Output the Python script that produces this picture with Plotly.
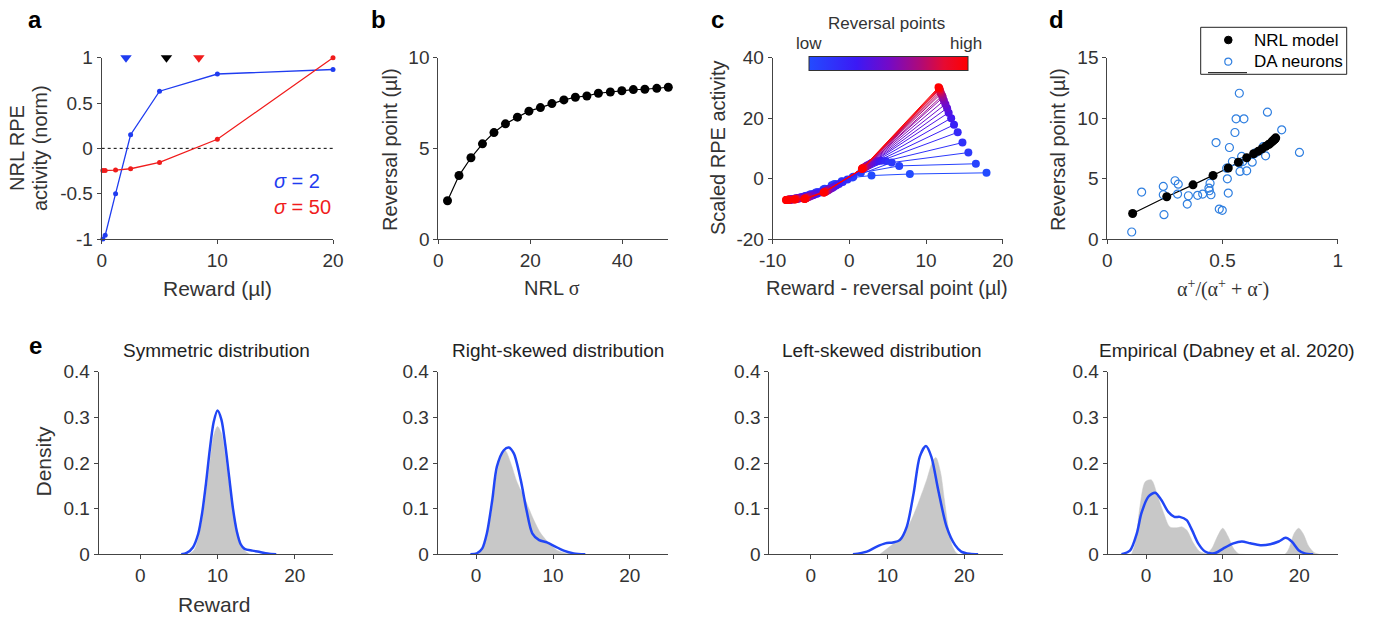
import plotly.graph_objects as go
from plotly.colors import sample_colorscale

W, H = 1374, 619
FONT = "Liberation Sans, Arial, sans-serif"
SERIF = "Liberation Serif, Times New Roman, serif"
TXT = "#333333"
AXC = "#444444"
BLUE = "#1f3cf0"
RED = "#f01c1c"
DA_BLUE = "#2f7fe0"

# ---------------- data ----------------
# panel a
rewards = [0.1, 0.3, 1.2, 2.5, 5, 10, 20]
rpe_sigma2 = [-1.0, -0.96, -0.5, 0.15, 0.63, 0.82, 0.87]
rpe_sigma50 = [-0.245, -0.245, -0.24, -0.225, -0.155, 0.10, 1.0]
rev_marker_x = [2.1, 5.6, 8.4]
rev_marker_y = [1.0, 1.0, 1.0]
rev_marker_colors = [BLUE, "black", RED]

# panel b
nrl_sigma = [2.0, 4.5, 7.1, 9.6, 12.1, 14.6, 17.2, 19.7, 22.2, 24.7,
             27.3, 29.8, 32.3, 34.8, 37.4, 39.9, 42.4, 44.9, 47.5, 50.0]
reversal_pts = [2.11, 3.50, 4.48, 5.25, 5.87, 6.35, 6.72, 7.05, 7.25, 7.47,
                7.67, 7.82, 7.89, 8.04, 8.11, 8.18, 8.24, 8.26, 8.31, 8.37]

# panel c: scaled RPE activity for each model neuron at each reward
rpe_scaled = [
    [-1.9, -1.8, -0.95, 0.35, 1.0, 1.5, 1.9],
    [-3.6, -3.4, -2.2, -0.9, 1.9, 4.2, 4.9],
    [-4.6, -4.5, -3.6, -2.3, 0.6, 5.3, 8.6],
    [-5.3, -5.2, -4.5, -3.4, -0.3, 5.8, 11.9],
    [-5.8, -5.7, -5.1, -4.1, -1.1, 5.9, 15.3],
    [-6.2, -6.1, -5.6, -4.6, -1.8, 5.7, 17.8],
    [-6.4, -6.3, -5.9, -5.0, -2.3, 5.5, 20.0],
    [-6.6, -6.5, -6.1, -5.3, -2.8, 5.2, 21.8],
    [-6.7, -6.6, -6.3, -5.5, -3.1, 4.9, 23.3],
    [-6.8, -6.7, -6.4, -5.7, -3.4, 4.6, 24.6],
    [-6.9, -6.8, -6.5, -5.9, -3.7, 4.3, 25.8],
    [-6.9, -6.9, -6.6, -6.0, -3.9, 4.1, 26.8],
    [-7.0, -6.9, -6.6, -6.1, -4.0, 3.9, 27.4],
    [-7.0, -7.0, -6.7, -6.3, -4.2, 3.7, 28.1],
    [-7.0, -7.0, -6.7, -6.4, -4.3, 3.6, 28.6],
    [-7.0, -7.0, -6.8, -6.5, -4.4, 3.5, 29.1],
    [-7.1, -7.0, -6.8, -6.6, -4.5, 3.4, 29.5],
    [-7.1, -7.0, -6.8, -6.6, -4.5, 3.3, 29.8],
    [-7.1, -7.1, -6.9, -6.7, -4.6, 3.3, 30.0],
    [-7.1, -7.1, -6.9, -6.8, -4.6, 3.2, 30.2],
]

# panel d
model_asym = [0.110, 0.258, 0.372, 0.459, 0.525, 0.569, 0.605, 0.635, 0.655, 0.672,
              0.688, 0.700, 0.706, 0.714, 0.718, 0.722, 0.725, 0.727, 0.729, 0.731]
da_asym = [0.106, 0.149, 0.243, 0.243, 0.246, 0.294, 0.308, 0.305, 0.347, 0.352,
           0.392, 0.414, 0.472, 0.446, 0.441, 0.443, 0.450, 0.486, 0.499, 0.518,
           0.521, 0.525, 0.530, 0.543, 0.554, 0.559, 0.573, 0.593, 0.573, 0.576,
           0.583, 0.588, 0.605, 0.629, 0.641, 0.677, 0.687, 0.695, 0.757, 0.834]
da_reversal = [0.58, 3.88, 4.35, 3.66, 2.01, 4.82, 4.54, 3.72, 2.89, 3.58,
               3.61, 3.72, 7.98, 4.62, 4.21, 3.99, 3.66, 2.48, 2.37, 5.86,
               4.98, 3.80, 7.57, 6.41, 8.81, 9.94, 12.06, 9.94, 6.28, 5.59,
               6.83, 6.41, 5.64, 6.36, 7.10, 7.65, 6.88, 10.49, 9.03, 7.16]
legend_labels = ["NRL model", "DA neurons"]

# panel e: true density (gray) and decoded density (blue)
sym_true_x = [6.3, 7.0, 7.5, 8.0, 8.5, 9.0, 9.5, 10.0, 10.5, 11.0, 11.5, 12.0, 12.5, 13.0, 13.5, 14.2]
sym_true_y = [0, 0.01, 0.035, 0.075, 0.135, 0.2, 0.26, 0.28, 0.265, 0.215, 0.155, 0.1, 0.055, 0.025, 0.008, 0]
sym_dec_x = [5.3, 6.0, 6.8, 7.5, 8.0, 8.5, 9.0, 9.5, 10.0, 10.5, 11.0, 11.5, 12.0, 12.5, 13.0, 13.5, 14.5, 15.5, 16.5, 17.6]
sym_dec_y = [0, 0.003, 0.015, 0.045, 0.09, 0.155, 0.23, 0.29, 0.315, 0.295, 0.24, 0.17, 0.1, 0.05, 0.022, 0.012, 0.008, 0.005, 0.002, 0]

right_true_x = [0.3, 1.0, 1.9, 2.7, 3.4, 3.8, 4.5, 5.3, 6.4, 7.5, 8.4, 9.5, 10.5, 11.8, 12.7]
right_true_y = [0, 0.017, 0.082, 0.177, 0.221, 0.227, 0.2, 0.159, 0.119, 0.075, 0.046, 0.024, 0.009, 0.002, 0]
right_dec_x = [-0.75, 0.1, 0.8, 1.4, 2.1, 2.7, 3.6, 4.25, 4.9, 5.8, 6.55, 7.3, 8.2, 9.2, 10.3, 11.4, 12.7, 14.2]
right_dec_y = [0, 0.002, 0.013, 0.046, 0.119, 0.192, 0.228, 0.234, 0.221, 0.163, 0.097, 0.046, 0.031, 0.026, 0.017, 0.008, 0.002, 0]

left_true_x = [9.0, 10.3, 11.6, 12.9, 14.0, 15.1, 15.9, 16.3, 16.9, 17.4, 17.9, 18.4, 18.9, 19.2]
left_true_y = [0, 0.017, 0.035, 0.068, 0.112, 0.163, 0.205, 0.212, 0.18, 0.12, 0.06, 0.02, 0.004, 0]
left_dec_x = [5.5, 7.3, 8.6, 9.7, 10.7, 11.6, 12.5, 13.4, 14.2, 15.0, 15.7, 16.6, 17.7, 18.8, 19.6, 20.7, 21.8]
left_dec_y = [0, 0.006, 0.017, 0.024, 0.026, 0.031, 0.06, 0.134, 0.214, 0.237, 0.214, 0.141, 0.06, 0.02, 0.006, 0.001, 0]

emp_true_x = [-1.9, -1.4, -0.8, -0.1, 0.7, 1.4, 2.3, 3.1, 4.0, 4.7, 5.3, 6.2, 7.0, 7.9, 8.6, 9.2,
              10.0, 10.7, 11.4, 12.0, 12.7, 18.1, 18.7, 19.3, 19.9, 20.5, 21.2, 21.9, 22.6]
emp_true_y = [0, 0.024, 0.104, 0.159, 0.163, 0.134, 0.09, 0.06, 0.058, 0.06, 0.053, 0.024, 0.006, 0.002, 0.013, 0.035,
              0.057, 0.039, 0.013, 0.002, 0, 0, 0.015, 0.045, 0.057, 0.045, 0.018, 0.004, 0]
emp_dec_x = [-3.2, -2.1, -1.2, -0.6, 0.3, 1.2, 2.0, 2.9, 3.7, 4.4, 5.3, 6.0, 6.8, 7.7, 8.6, 9.2, 10.1,
             11.4, 12.5, 13.6, 14.9, 16.2, 17.3, 18.2, 19.0, 19.9, 20.7, 21.8]
emp_dec_y = [0, 0.008, 0.046, 0.09, 0.126, 0.135, 0.119, 0.093, 0.082, 0.082, 0.075, 0.053, 0.024, 0.006, 0.002, 0.004, 0.013,
             0.024, 0.028, 0.024, 0.02, 0.022, 0.028, 0.036, 0.028, 0.009, 0.002, 0]

dist_titles = ["Symmetric distribution", "Right-skewed distribution",
               "Left-skewed distribution", "Empirical (Dabney et al. 2020)"]

# ---------------- layout helpers ----------------
def px_x(x):
    return x / W


def px_y(y):
    return 1 - y / H


def axis(dom_px, rng, tickvals, ticktext, vertical=False):
    if vertical:
        dom = [px_y(dom_px[1]), px_y(dom_px[0])]
    else:
        dom = [px_x(dom_px[0]), px_x(dom_px[1])]
    return dict(domain=dom, range=rng, tickvals=tickvals, ticktext=ticktext,
                showline=True, linecolor=AXC, linewidth=1, mirror=False,
                ticks="outside", ticklen=4, tickcolor=AXC, tickwidth=1,
                showgrid=False, zeroline=False, fixedrange=True, automargin=False,
                tickfont=dict(family=FONT, size=19, color=TXT))


TOP = (57.7, 239.0)
BOT = (371.7, 554.3)
fig = go.Figure()

layout_axes = {}
layout_axes["xaxis"] = axis((101.7, 333.0), [0, 20], [0, 10, 20], ["0", "10", "20"])
layout_axes["yaxis"] = axis(TOP, [-1, 1], [-1, -0.5, 0, 0.5, 1], ["-1", "-0.5", "0", "0.5", "1"], True)
layout_axes["xaxis2"] = axis((438.3, 668.3), [0, 50], [0, 20, 40], ["0", "20", "40"])
layout_axes["yaxis2"] = axis(TOP, [0, 10], [0, 5, 10], ["0", "5", "10"], True)
layout_axes["xaxis3"] = axis((772.7, 1002.7), [-10, 20], [-10, 0, 10, 20], ["-10", "0", "10", "20"])
layout_axes["yaxis3"] = axis(TOP, [-20, 40], [-20, 0, 20, 40], ["-20", "0", "20", "40"], True)
layout_axes["xaxis4"] = axis((1107.3, 1337.7), [0, 1], [0, 0.5, 1], ["0", "0.5", "1"])
layout_axes["yaxis4"] = axis(TOP, [0, 15], [0, 5, 10, 15], ["0", "5", "10", "15"], True)
e_x_dom = [(98.7, 333.3), (437.7, 668.3), (769.3, 1002.7), (1107.7, 1337.7)]
e_x_rng = [[-5.4, 25], [-5, 25], [-5.4, 25], [-5, 25]]
for k in range(4):
    n = 5 + k
    layout_axes[f"xaxis{n}"] = axis(e_x_dom[k], e_x_rng[k], [0, 10, 20], ["0", "10", "20"])
    layout_axes[f"yaxis{n}"] = axis(BOT, [0, 0.4], [0, 0.1, 0.2, 0.3, 0.4],
                                   ["0", "0.1", "0.2", "0.3", "0.4"], True)
for n in range(1, 9):
    s = "" if n == 1 else str(n)
    layout_axes[f"xaxis{s}"]["anchor"] = f"y{s}"
    layout_axes[f"yaxis{s}"]["anchor"] = f"x{s}"

# ---------------- panel a ----------------
fig.add_trace(go.Scatter(x=[0, 20], y=[0, 0], mode="lines", xaxis="x", yaxis="y",
                         line=dict(color="black", width=1, dash="dot"), showlegend=False))
fig.add_trace(go.Scatter(x=rewards, y=rpe_sigma2, mode="lines+markers", xaxis="x", yaxis="y",
                         line=dict(color=BLUE, width=1.3), marker=dict(size=5, color=BLUE),
                         cliponaxis=False, showlegend=False))
fig.add_trace(go.Scatter(x=rewards, y=rpe_sigma50, mode="lines+markers", xaxis="x", yaxis="y",
                         line=dict(color=RED, width=1.3), marker=dict(size=5, color=RED),
                         cliponaxis=False, showlegend=False))
fig.add_trace(go.Scatter(x=rev_marker_x, y=rev_marker_y, mode="markers", xaxis="x", yaxis="y",
                         marker=dict(symbol="triangle-down", size=10, color=rev_marker_colors),
                         cliponaxis=False, showlegend=False))

# ---------------- panel b ----------------
fig.add_trace(go.Scatter(x=nrl_sigma, y=reversal_pts, mode="lines+markers", xaxis="x2", yaxis="y2",
                         line=dict(color="black", width=1.2), marker=dict(size=9, color="black"),
                         cliponaxis=False, showlegend=False))

# ---------------- panel c ----------------
cscale = [[0.0, "rgb(35,75,255)"], [0.3, "rgb(60,25,245)"], [0.5, "rgb(115,10,200)"],
          [0.7, "rgb(175,10,120)"], [0.85, "rgb(230,10,50)"], [1.0, "rgb(255,0,0)"]]
N = len(reversal_pts)
for i in range(N):
    col = sample_colorscale(cscale, [i / (N - 1)])[0]
    xs = [rw - reversal_pts[i] for rw in rewards]
    mk = dict(size=8, color=[i] * len(xs), colorscale=cscale, cmin=0, cmax=N - 1)
    if i == N - 1:
        mk.update(showscale=True, colorbar=dict(
            orientation="h", x=px_x(888.8), xanchor="center", xref="paper",
            y=px_y(63.7), yanchor="middle", yref="paper",
            len=159, lenmode="pixels", thickness=14, thicknessmode="pixels",
            outlinewidth=1, outlinecolor="#333333", showticklabels=False, ticks="",
            xpad=0, ypad=0, borderwidth=0))
    fig.add_trace(go.Scatter(x=xs, y=rpe_scaled[i], mode="lines+markers", xaxis="x3", yaxis="y3",
                             line=dict(color=col, width=1), marker=mk, showlegend=False))

# ---------------- panel d ----------------
fig.add_trace(go.Scatter(x=model_asym, y=reversal_pts, mode="lines", xaxis="x4", yaxis="y4",
                         line=dict(color="black", width=1.2), showlegend=False))
fig.add_trace(go.Scatter(x=da_asym, y=da_reversal, mode="markers", xaxis="x4", yaxis="y4",
                         marker=dict(symbol="circle-open", size=8, color=DA_BLUE, line=dict(width=1.2)),
                         name=legend_labels[1], showlegend=False))
fig.add_trace(go.Scatter(x=model_asym, y=reversal_pts, mode="markers", xaxis="x4", yaxis="y4",
                         marker=dict(size=9, color="black"), name=legend_labels[0], showlegend=False))

# ---------------- panel e ----------------
dists = [(sym_true_x, sym_true_y, sym_dec_x, sym_dec_y),
         (right_true_x, right_true_y, right_dec_x, right_dec_y),
         (left_true_x, left_true_y, left_dec_x, left_dec_y),
         (emp_true_x, emp_true_y, emp_dec_x, emp_dec_y)]
for k, (tx, ty, dx, dy) in enumerate(dists):
    n = 5 + k
    fig.add_trace(go.Scatter(x=tx, y=ty, mode="lines", fill="tozeroy", fillcolor="#c8c8c8",
                             line=dict(color="#c8c8c8", width=0.5, shape="spline", smoothing=0.8),
                             xaxis=f"x{n}", yaxis=f"y{n}", showlegend=False))
    fig.add_trace(go.Scatter(x=dx, y=dy, mode="lines",
                             line=dict(color="#2146f5", width=2.5, shape="spline", smoothing=0.8),
                             xaxis=f"x{n}", yaxis=f"y{n}", showlegend=False))

# ---------------- annotations ----------------
def ann(text, x, y, size=20, color=TXT, angle=0, xanchor="center", family=FONT):
    return dict(text=text, x=px_x(x), y=px_y(y), xref="paper", yref="paper", showarrow=False,
                font=dict(family=family, size=size, color=color), textangle=angle,
                xanchor=xanchor, yanchor="middle")


anns = []
for letter, lx, ly in [("a", 35, 20), ("b", 378.5, 20), ("c", 717.5, 20), ("d", 1056.5, 20), ("e", 35, 345)]:
    anns.append(ann(f"<b>{letter}</b>", lx, ly, size=24, color="black"))

anns += [
    ann("NRL RPE", 17, 148, angle=-90),
    ann("activity (norm)", 40, 148, angle=-90),
    ann("Reward (µl)", 217.5, 288, size=21),
    ann("Reversal point (µl)", 390, 150, angle=-90),
    ann('NRL <span style="font-family:Liberation Serif">σ</span>', 551.7, 288),
    ann("Scaled RPE activity", 718, 148, angle=-90),
    ann("Reward - reversal point (µl)", 886.7, 288),
    ann("Reversal point (µl)", 1058, 150, angle=-90),
    ann("α<sup>+</sup>/(α<sup>+</sup> + α<sup>-</sup>)", 1223, 288, family=SERIF),
    ann("Density", 42.5, 461, angle=-90, size=21),
    ann("Reward", 214, 604.7, size=21),
]
anns.append(ann("<i>σ</i> = 2", 272, 181.3, color=BLUE, xanchor="left"))
anns.append(ann("<i>σ</i> = 50", 272, 207.3, color=RED, xanchor="left"))
anns += [ann("Reversal points", 886.7, 23.3, size=17),
         ann("low", 809, 43.3, size=17),
         ann("high", 966, 43.3, size=17)]
for t, cx in zip(dist_titles, [216, 558, 881.7, 1227]):
    anns.append(ann(t, cx, 350, size=19, color="#222222"))
# legend texts (panel d)
anns.append(ann(legend_labels[0], 1251.7, 40, size=17, color="black", xanchor="left"))
anns.append(ann(legend_labels[1], 1251.7, 61.7, size=17, color="black", xanchor="left"))

legend_shapes = [
    dict(type="rect", xref="paper", yref="paper", x0=px_x(1200.7), x1=px_x(1346.7),
         y0=px_y(74.3), y1=px_y(27.3), line=dict(color="#222222", width=1), fillcolor="white", layer="above"),
    dict(type="circle", xref="paper", yref="paper", xsizemode="pixel", ysizemode="pixel",
         xanchor=px_x(1228.3), yanchor=px_y(40), x0=-3.8, x1=3.8, y0=-3.8, y1=3.8,
         fillcolor="black", line=dict(color="black", width=1), layer="above"),
    dict(type="circle", xref="paper", yref="paper", xsizemode="pixel", ysizemode="pixel",
         xanchor=px_x(1228.3), yanchor=px_y(61.7), x0=-3.5, x1=3.5, y0=-3.5, y1=3.5,
         fillcolor="rgba(0,0,0,0)", line=dict(color=DA_BLUE, width=1.2), layer="above"),
    dict(type="line", xref="paper", yref="paper",
         x0=px_x(1208), x1=px_x(1247), y0=px_y(72.7), y1=px_y(72.7),
         line=dict(color="black", width=1), layer="above"),
]

fig.update_layout(
    width=W, height=H, autosize=False,
    margin=dict(l=0, r=0, t=0, b=0, pad=0, autoexpand=False),
    paper_bgcolor="white", plot_bgcolor="white",
    font=dict(family=FONT, color=TXT),
    annotations=anns,
    showlegend=False,
    shapes=legend_shapes,
    **layout_axes,
)

fig.write_html("out.html")
